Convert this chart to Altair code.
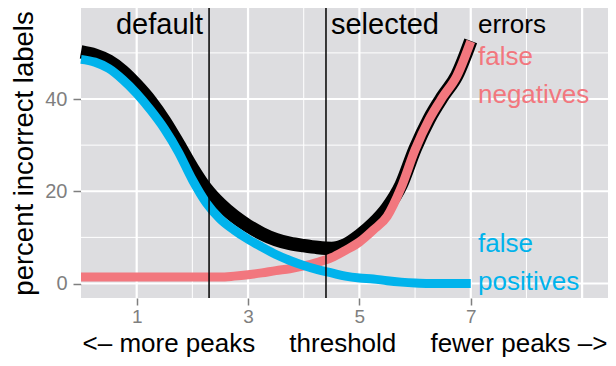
import altair as alt
import pandas as pd

# ---- data ----
threshold = [0.0, 0.25, 0.5, 0.75, 1.0, 1.25, 1.5, 1.75, 2.0, 2.25, 2.5, 2.75,
             3.0, 3.25, 3.5, 3.75, 4.0, 4.25, 4.5, 4.75, 5.0, 5.25, 5.5, 5.75,
             6.0, 6.25, 6.5, 6.75, 7.0]
errors = [50.2, 49.5, 48.2, 46.0, 43.0, 39.5, 35.2, 30.2, 25.0, 20.5, 17.2, 14.6,
          12.5, 10.8, 9.5, 8.7, 8.2, 7.8, 7.6, 8.4, 10.4, 13.0, 16.4, 21.4,
          29.2, 35.6, 40.6, 45.1, 52.6]
false_negatives = [1.4, 1.4, 1.4, 1.4, 1.4, 1.4, 1.4, 1.4, 1.4, 1.4, 1.4, 1.6,
                   1.9, 2.3, 2.8, 3.2, 3.8, 4.6, 5.6, 7.2, 9.0, 11.6, 14.6, 20.8,
                   29.0, 35.5, 40.5, 45.0, 52.5]
false_positives = [48.6, 48.0, 46.6, 44.2, 41.2, 37.6, 33.5, 28.5, 22.5, 17.5, 14.0, 11.6,
                   9.6, 7.9, 6.3, 5.0, 3.9, 3.0, 2.3, 1.6, 1.2, 1.0, 0.6, 0.3,
                   0.1, 0.0, 0.0, 0.0, 0.0]

cutoff_names = ["default", "selected"]
cutoff_values = [2.3, 4.4]

x_ticks = [1, 3, 5, 7]
y_ticks = [0, 20, 40]
x_major_grid = [1, 3, 5, 7, 9]
x_minor_grid = [2, 4, 6, 8]
y_major_grid = [0, 20, 40]
y_minor_grid = [10, 30, 50]

series_labels = ["errors", "false", "negatives", "false", "positives"]
series_label_y = [54.3, 47.4, 39.1, 6.8, -1.4]
series_label_x = 7.13
series_label_colors = ["#000000", "#F2777E", "#F2777E", "#00B3EC", "#00B3EC"]

BLACK = "#000000"
RED = "#F2777E"
BLUE = "#00B3EC"

XDOM = [0, 9.465]
YDOM = [-3.14, 59.73]
FONT = "Liberation Sans"
NB = "\u00a0"
GAP = NB * 4 + "\u2009"

x_title = NB.join(["<–", "more", "peaks"]) + GAP + "threshold" + GAP + NB.join(["fewer", "peaks", "–>"])
y_title = "percent incorrect labels"

# ---- frames ----
lines_df = pd.DataFrame({
    "threshold": threshold * 3,
    "value": errors + false_negatives + false_positives,
    "series": ["errors"] * len(threshold) + ["fn"] * len(threshold) + ["fp"] * len(threshold),
})
cut_df = pd.DataFrame({"name": cutoff_names, "x": cutoff_values})
lab_df = pd.DataFrame({
    "label": series_labels,
    "x": [series_label_x] * len(series_labels),
    "y": series_label_y,
    "color": series_label_colors,
})

xs = alt.Scale(domain=XDOM, nice=False, zero=False)
ys = alt.Scale(domain=YDOM, nice=False, zero=False)

x_axis = alt.Axis(values=x_ticks, title=x_title, grid=False, domain=False,
                  tickColor="#7F7F7F", tickSize=7, tickWidth=1.5,
                  labelColor="#7F7F7F", labelFontSize=19, labelFont=FONT, labelPadding=2,
                  titleFont=FONT, titleFontSize=26, titleFontWeight="normal",
                  titleColor="black", titlePadding=4)
y_axis = alt.Axis(values=y_ticks, title=y_title, grid=False, domain=False,
                  tickColor="#7F7F7F", tickSize=8, tickWidth=1.5,
                  labelColor="#7F7F7F", labelFontSize=20, labelFont=FONT, labelPadding=6,
                  titleFont=FONT, titleFontSize=27.5, titleFontWeight="normal",
                  titleColor="black", titlePadding=6)

def X(field):
    return alt.X(field, scale=xs, axis=x_axis, title=x_title)

def Y(field):
    return alt.Y(field, scale=ys, axis=y_axis, title=y_title)

def vgrid(vals, w):
    return alt.Chart(pd.DataFrame({"g": vals})).mark_rule(color="white", strokeWidth=w).encode(
        x=X("g:Q"))

def hgrid(vals, w):
    return alt.Chart(pd.DataFrame({"g": vals})).mark_rule(color="white", strokeWidth=w).encode(
        y=Y("g:Q"))

grid = vgrid(x_minor_grid, 1) + hgrid(y_minor_grid, 1) + vgrid(x_major_grid, 2.2) + hgrid(y_major_grid, 2.2)

base = alt.Chart(lines_df)

def line(series, color, width):
    return base.transform_filter(alt.datum.series == series).mark_line(
        color=color, strokeWidth=width, interpolate="monotone", strokeCap="butt", strokeJoin="round"
    ).encode(x=X("threshold:Q"), y=Y("value:Q"))

lines = line("errors", BLACK, 13.5) + line("fn", RED, 9) + line("fp", BLUE, 9)

cuts = alt.Chart(cut_df).mark_rule(color="black", strokeWidth=1.5).encode(x=X("x:Q"))

default_txt = alt.Chart(cut_df).transform_filter(alt.datum.name == "default").mark_text(
    align="right", baseline="alphabetic", dx=-6, fontSize=29, font=FONT, color="black"
).encode(x=X("x:Q"), y=alt.value(26), text="name:N")

selected_txt = alt.Chart(cut_df).transform_filter(alt.datum.name == "selected").mark_text(
    align="left", baseline="alphabetic", dx=5, fontSize=29, font=FONT, color="black"
).encode(x=X("x:Q"), y=alt.value(26), text="name:N")

labels = alt.Chart(lab_df).mark_text(
    align="left", baseline="alphabetic", fontSize=26, font=FONT
).encode(
    x=X("x:Q"),
    y=Y("y:Q"),
    text="label:N",
    color=alt.Color("color:N", scale=None),
)

chart = alt.layer(grid, lines, cuts, default_txt, selected_txt, labels).properties(
    width=527, height=290,
    autosize=alt.AutoSizeParams(type="none"),
    padding={"left": 73, "top": 0, "right": 0, "bottom": 60},
).configure_view(fill="#DDDDE0", stroke=None)

chart.save("out.html", embed_options={"renderer": "svg", "actions": False})
